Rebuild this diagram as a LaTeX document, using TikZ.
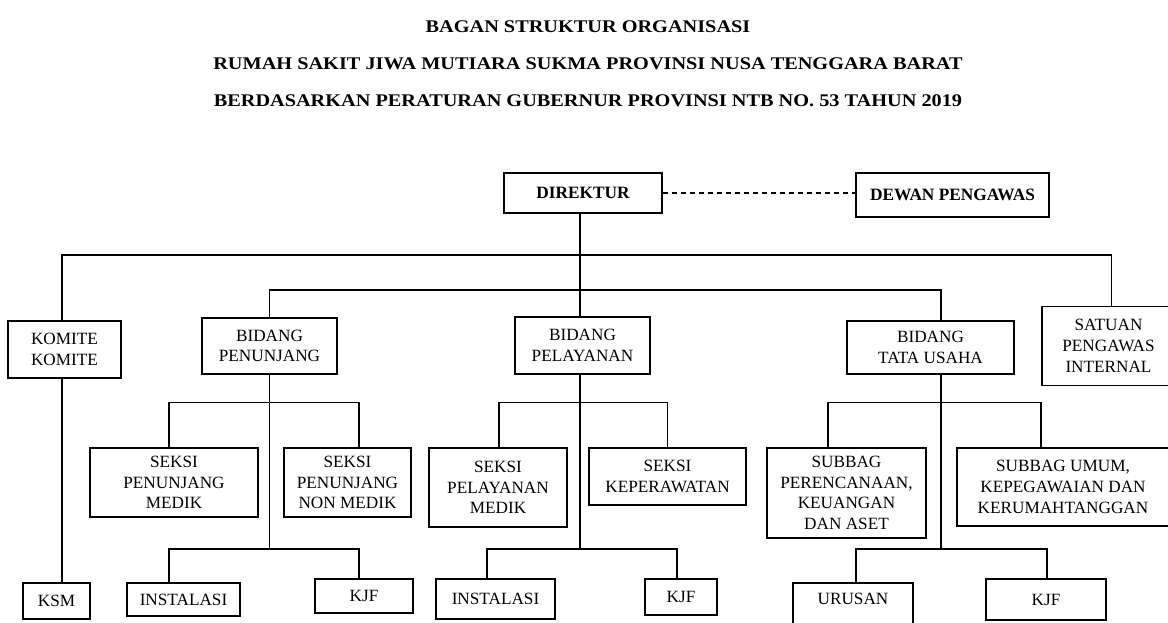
\documentclass[tikz,border=0pt]{standalone}
\usepackage{fontspec}
\setmainfont{Liberation Serif}
\newfontfamily\ttlfont{Liberation Serif}[FakeStretch=1.14]
\usepackage{tikz}
\begin{document}
\begin{tikzpicture}[x=1pt,y=-1pt]
\tikzstyle{every node}+=[inner sep=0pt]
\tikzstyle{box}=[draw=black, line width=1.2pt, align=center, font=\fontsize{17.2}{20.7}\selectfont]
\tikzstyle{bbox}=[box, font=\fontsize{17.3}{20.7}\selectfont\bfseries]
\tikzstyle{ttl}=[anchor=base, font=\ttlfont\fontsize{17.8}{20}\selectfont\bfseries]
\tikzstyle{link}=[black, line width=1.2pt]
\useasboundingbox (0,0) rectangle (1168,623);
\clip (0,0) rectangle (1168,623);
\node [ttl] (t1) at (588,33) {BAGAN STRUKTUR ORGANISASI};
\node [ttl] (t2) at (588,69.7) {RUMAH SAKIT JIWA MUTIARA SUKMA PROVINSI NUSA TENGGARA BARAT};
\node [ttl] (t3) at (588,106.4) {BERDASARKAN PERATURAN GUBERNUR PROVINSI NTB NO. 53 TAHUN 2019};
\node [bbox, minimum width=158, minimum height=40] (dir) at (583,193) {DIREKTUR};
\node [bbox, minimum width=193, minimum height=44] (dewan) at (952.5,195) {DEWAN PENGAWAS};
\node [box, minimum width=113, minimum height=57] (komite) at (64.5,349.5) {KOMITE\\KOMITE};
\node [box, minimum width=135, minimum height=56] (pnj) at (269.5,346) {BIDANG\\PENUNJANG};
\node [box, minimum width=135, minimum height=57] (ply) at (582.5,345.5) {BIDANG\\PELAYANAN};
\node [box, minimum width=167, minimum height=53] (tu) at (930.5,347.5) {BIDANG\\TATA USAHA};
\node [box, minimum width=133, minimum height=79] (spi) at (1108.5,346) {SATUAN\\PENGAWAS\\INTERNAL};
\node [box, minimum width=168, minimum height=69] (smp) at (174,482.5) {SEKSI\\PENUNJANG\\MEDIK};
\node [box, minimum width=127, minimum height=69] (snm) at (347.5,482.5) {SEKSI\\PENUNJANG\\NON MEDIK};
\node [box, minimum width=138, minimum height=79] (spm) at (498,487.5) {SEKSI\\PELAYANAN\\MEDIK};
\node [box, minimum width=157, minimum height=57] (skp) at (667.5,476.5) {SEKSI\\KEPERAWATAN};
\node [box, minimum width=159, minimum height=90] (sbp) at (846.5,493) {SUBBAG\\PERENCANAAN,\\KEUANGAN\\DAN ASET};
\node [box, minimum width=212, minimum height=78] (sbu) at (1063,487) {SUBBAG UMUM,\\KEPEGAWAIAN DAN\\KERUMAHTANGGAN};
\node [box, minimum width=67, minimum height=36] (ksm) at (56.5,601) {KSM};
\node [box, minimum width=113, minimum height=33] (inst1) at (183.5,599.5) {INSTALASI};
\node [box, minimum width=98, minimum height=34] (kjf1) at (364,596) {KJF};
\node [box, minimum width=119, minimum height=40] (inst2) at (495.5,599) {INSTALASI};
\node [box, minimum width=72, minimum height=36] (kjf2) at (681,597) {KJF};
\node [box, minimum width=120, text height=12, text depth=40, inner ysep=9, anchor=base] (urs) at (853,604) {URUSAN};
\node [box, minimum width=120, minimum height=41] (kjf3) at (1046,599.5) {KJF};
\coordinate (busA) at (0,255);
\coordinate (busB) at (0,290);
\coordinate (busC) at (0,402.5);
\coordinate (busD) at (0,549);
\draw [link, dash pattern=on 5pt off 4pt] (dir.east) -- (dewan.west |- dir.east);
\draw [link] ([xshift=-3]dir.south) -- ([xshift=-3]dir.south |- ply.north);
\draw [link] ([xshift=-2.5]komite.north) |- ([xshift=-3]dir.south |- busA) -| ([xshift=3]spi.north);
\draw [link] (pnj.north) |- ([xshift=-3]dir.south |- busB) -| ([xshift=10.5]tu.north);
\draw [link] ([xshift=-2.5]komite.south) -- ([xshift=-2.5]komite.south |- ksm.north);
\draw [link] (pnj.south) -- (pnj.south |- busD);
\draw [link] ([xshift=-5]smp.north) |- (pnj.south |- busC) -| ([xshift=11.5]snm.north);
\draw [link] ([xshift=-14.5]inst1.north) |- (pnj.south |- busD) -| ([xshift=-5]kjf1.north);
\draw [link] ([xshift=-2.5]ply.south) -- ([xshift=-2.5]ply.south |- busD);
\draw [link] ([xshift=1]spm.north) |- ([xshift=-2.5]ply.south |- busC) -| (skp.north);
\draw [link] ([xshift=-8.5]inst2.north) |- ([xshift=-2.5]ply.south |- busD) -| ([xshift=-4]kjf2.north);
\draw [link] ([xshift=10.5]tu.south) -- ([xshift=10.5]tu.south |- busD);
\draw [link] ([xshift=-18.5]sbp.north) |- ([xshift=10.5]tu.south |- busC) -| ([xshift=-22]sbu.north);
\draw [link] ([xshift=3]urs.north) |- ([xshift=10.5]tu.south |- busD) -| ([xshift=1]kjf3.north);
\end{tikzpicture}
\end{document}
